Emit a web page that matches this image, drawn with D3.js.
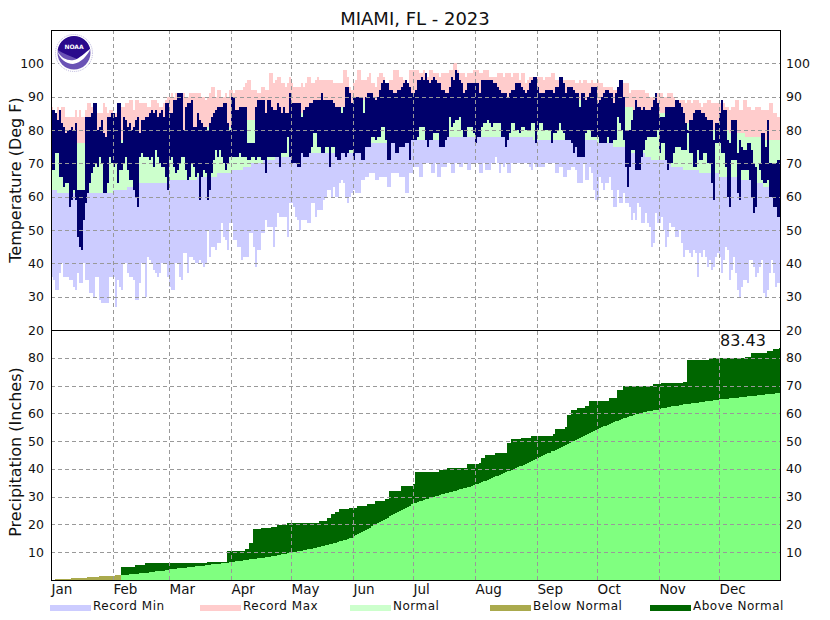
<!DOCTYPE html>
<html>
<head>
<meta charset="utf-8">
<script src="https://cdn.jsdelivr.net/npm/d3@7"></script>
<style>
body { margin: 0; background: #fff; }
text { font-family: "DejaVu Sans", sans-serif; fill: #111; }
</style>
</head>
<body>
<div id="chart"></div>
<script>
var MONTHS = ['Jan','Feb','Mar','Apr','May','Jun','Jul','Aug','Sep','Oct','Nov','Dec'];
var MONTH_STARTS = [0,31,59,90,120,151,181,212,243,273,304,334];
var TEMP_TICKS = [20,30,40,50,60,70,80,90,100];
var PRECIP_TICKS = [10,20,30,40,50,60,70,80];

// one line per month, Jan to Dec
var recordMin = [].concat(
[36,35,32,32,37,40,36,36,36,35,35,33,32,37,34,34,40,35,35,31,31,30,36,36,29,28,28,28,28,36,36],
[36,27,35,33,32,40,40,37,36,36,35,29,29,34,40,40,30,42,41,40,38,37,36,37,40,40,40,36],
[33,32,32,40,40,36,35,43,43,37,42,42,41,40,40,41,40,39,40,50,42,45,45,44,46,46,52,48,47,44,52],
[52,47,47,45,45,41,42,42,42,49,49,45,39,44,44,49,49,53,51,51,51,45,51,55,54,54,54,54,48,58],
[58,57,54,53,50,53,53,53,52,52,58,58,54,56,56,56,59,60,62,62,60,63,60,60,64,65,64,60,58,60,61],
[62,61,61,61,65,65,66,66,67,67,67,65,65,66,66,66,66,63,63,67,67,67,67,66,66,66,61,61,67,67],
[69,69,69,66,66,70,70,70,70,67,67,70,66,66,69,69,69,70,70,67,67,70,70,69,69,70,70,68,68,70,70],
[70,70,67,67,70,68,68,68,70,70,72,70,67,70,69,70,67,67,70,70,70,70,70,70,70,70,70,69,68,70,69],
[69,69,69,69,70,70,70,70,70,67,67,69,69,66,66,68,68,69,69,68,64,64,64,70,65,65,69,67,62,59],
[59,66,64,62,64,64,66,62,57,57,62,58,58,61,58,58,57,53,55,53,58,57,52,52,55,52,51,45,46,55,52],
[52,54,50,45,48,52,51,51,48,48,50,46,42,44,44,43,42,44,43,36,43,42,44,42,39,41,38,39,42,43],
[42,37,41,45,44,35,38,42,37,32,30,33,35,35,34,41,41,39,36,37,39,41,31,30,32,37,41,37,33,34,34]
);
var recordMax = [].concat(
[87,85,85,87,84,87,87,84,84,84,84,84,86,84,86,84,84,86,88,88,87,85,85,85,85,85,88,87,85,86,86],
[85,85,87,87,87,87,88,88,89,89,86,89,89,88,88,88,88,87,87,89,89,89,88,87,87,88,89,90],
[90,91,90,91,91,91,91,91,90,90,91,91,91,91,91,91,90,90,89,90,91,93,93,90,92,92,90,90,91,90,92],
[92,91,92,92,92,92,93,94,95,95,92,92,92,91,91,93,93,92,92,97,97,94,95,96,96,94,94,93,94,96],
[94,93,93,93,93,94,93,94,96,96,94,94,95,96,95,95,95,95,95,95,95,94,94,94,94,94,98,98,96,93,92],
[94,95,98,98,95,95,95,96,97,94,94,93,96,97,97,96,94,93,95,95,98,98,98,96,96,95,93,94,98,98],
[98,98,98,97,97,98,96,96,98,98,97,97,97,96,97,97,97,97,98,98,100,100,98,97,97,97,96,97,97,97,98],
[98,98,97,97,98,98,98,96,96,96,96,97,97,97,96,97,97,97,96,97,97,97,95,97,97,94,95,96,96,96,96],
[96,96,96,95,96,96,96,97,97,95,95,95,95,95,95,95,95,95,95,94,94,95,94,95,95,94,94,95,94,94],
[95,94,94,93,93,93,93,93,92,92,93,93,93,94,94,94,91,92,92,92,92,92,92,92,91,91,90,90,90,91,91],
[91,91,90,90,91,91,91,90,89,89,89,89,89,88,89,89,88,89,89,89,88,87,88,88,89,89,88,88,88,88],
[88,88,88,87,87,86,87,87,89,89,86,86,89,89,87,87,86,86,87,87,87,86,86,86,86,88,88,85,85,84,84]
);
var normalLow = [].concat(
[62,62,62,61,61,61,61,61,61,61,61,61,61,61,61,61,61,61,61,61,61,61,61,61,61,61,61,61,61,61,61],
[62,62,62,62,62,62,62,63,63,63,63,63,64,64,64,64,64,64,64,64,64,64,64,64,64,64,64,64],
[65,65,65,65,65,65,65,65,65,65,65,65,65,65,66,66,66,66,66,66,66,66,66,66,67,67,67,67,67,67,67],
[68,68,68,68,68,68,69,69,69,69,70,70,70,70,70,70,71,71,71,71,71,71,72,72,72,72,72,72,72,72],
[72,72,72,72,72,73,73,73,73,73,73,73,73,73,73,73,73,73,73,73,73,73,73,73,73,73,73,73,73,73,73],
[73,73,73,73,73,73,75,75,76,76,76,76,76,76,76,76,76,77,77,77,77,77,77,77,77,77,77,77,77,77],
[77,77,77,77,77,77,77,77,77,77,77,77,77,77,77,77,78,78,78,78,78,78,78,78,78,78,78,78,78,78,78],
[78,78,78,78,78,78,78,78,78,78,78,78,78,78,78,78,78,78,78,78,78,78,78,78,78,78,78,78,78,77,77],
[77,77,77,77,77,77,77,77,77,77,77,77,77,77,77,77,77,77,77,77,77,77,77,77,77,77,77,77,77,77],
[76,76,76,76,76,76,76,76,75,75,75,75,75,75,75,74,74,73,73,73,73,73,73,73,72,72,72,71,71,71,71],
[71,71,71,71,70,70,69,69,69,69,69,69,68,68,68,68,68,68,68,68,67,67,67,67,67,67,67,67,67,67],
[66,66,66,66,66,66,66,66,66,65,65,65,65,65,65,65,64,64,64,64,64,64,63,63,63,63,63,63,63,63,63]
);
var normalHigh = [].concat(
[76,76,76,76,76,76,76,76,76,76,76,76,76,76,76,76,76,76,76,76,76,76,76,76,76,76,76,76,76,76,76],
[77,77,77,77,77,77,77,77,77,77,77,77,77,77,78,78,78,78,78,78,78,78,78,78,78,78,78,78],
[79,79,79,79,79,79,79,80,80,80,80,80,80,80,80,80,81,81,81,81,81,81,81,81,81,81,81,81,81,81,81],
[82,82,82,82,82,82,82,82,83,83,83,83,83,83,83,83,83,83,83,83,84,84,84,84,84,84,84,84,84,84],
[85,85,85,85,85,85,85,85,85,85,85,86,86,86,86,86,86,86,86,86,86,87,87,87,87,87,87,87,87,87,87],
[88,88,88,88,88,89,89,89,89,89,89,89,89,89,89,90,90,90,90,90,90,90,90,90,90,91,91,91,91,91],
[91,91,91,91,91,91,91,91,91,91,91,91,91,91,91,91,91,91,91,91,91,91,91,91,91,91,91,91,91,91,91],
[91,91,91,91,91,91,91,91,91,91,91,91,91,91,91,90,90,90,90,90,90,90,90,90,90,90,90,90,90,90,90],
[90,90,90,90,90,90,90,90,90,90,89,89,89,89,89,89,89,89,89,89,89,89,89,89,89,89,89,89,89,89],
[88,88,88,88,88,88,88,88,87,87,87,87,87,87,87,87,87,87,86,86,86,86,86,86,86,86,86,86,86,86,86],
[85,85,85,85,84,84,84,84,83,83,83,83,82,82,82,82,81,81,81,81,81,81,81,80,80,80,80,80,80,80],
[80,80,80,80,80,79,79,79,79,79,79,79,79,78,78,78,78,78,78,78,78,78,78,77,77,77,77,77,77,77,77]
);
var actualHigh = [].concat(
[86,86,85,83,86,82,81,79,80,80,81,80,82,62,62,62,62,84,84,84,85,88,88,80,81,83,79,78,84,84,85],
[85,84,88,88,76,84,83,81,82,80,81,83,84,79,83,83,84,84,85,86,85,86,84,85,86,84,88,88],
[85,85,89,89,91,91,91,80,87,88,88,89,81,81,85,83,82,81,81,80,82,84,85,86,87,87,87,88,88,82,80],
[90,90,86,86,87,87,87,87,76,76,76,76,87,89,89,89,89,85,89,89,87,86,86,88,87,85,87,85,85,91],
[88,88,88,88,88,84,86,87,87,88,88,89,89,89,89,91,89,89,89,89,89,88,87,87,87,85,87,93,93,91,88],
[90,90,90,90,90,85,90,91,91,91,90,89,90,92,94,95,94,94,92,92,91,91,92,92,93,94,95,94,93,91],
[91,92,95,95,96,95,97,95,94,95,96,95,94,94,92,92,91,91,93,96,95,98,97,95,94,91,92,94,94,94,94],
[94,94,91,95,95,95,95,95,95,94,94,93,92,91,91,91,90,91,92,92,94,94,94,93,92,91,92,94,95,96,96],
[93,91,91,91,92,92,92,92,91,93,93,96,96,94,91,93,93,93,92,91,91,87,91,91,89,90,91,93,93,93],
[88,89,90,91,92,92,91,91,88,91,93,95,95,90,80,80,80,83,86,89,87,87,86,87,86,86,86,87,89,91,88],
[84,84,84,87,87,87,87,87,89,89,88,87,85,82,80,83,83,85,86,86,86,85,85,84,83,83,83,77,82,82],
[85,89,86,86,77,76,83,83,83,73,77,75,74,74,76,76,74,70,69,69,70,79,79,75,83,70,70,70,70,71,71]
);
var actualLow = [].concat(
[68,68,73,73,66,66,63,64,64,57,59,62,59,48,45,44,53,58,61,64,67,69,70,69,72,70,61,61,64,72,70],
[69,70,64,68,68,70,72,68,65,65,62,60,57,72,73,72,72,72,71,72,69,74,72,70,69,69,66,62],
[71,72,69,67,68,70,72,72,68,65,66,70,69,66,67,59,66,68,67,59,62,67,71,74,72,74,72,70,68,70,72],
[72,72,72,72,73,72,72,72,71,71,72,72,71,72,72,71,71,67,72,72,72,72,72,72,69,73,73,73,78,72],
[70,70,70,69,69,73,72,72,72,73,75,79,79,75,75,73,73,75,75,69,75,75,72,71,71,73,73,72,73,74,74],
[71,73,73,73,71,71,75,75,75,78,78,77,78,78,81,81,77,71,71,76,76,73,73,75,75,75,76,76,71,77],
[77,77,78,81,81,81,77,75,77,77,79,79,79,75,75,75,77,78,84,81,82,83,83,84,80,78,78,81,81,81,79],
[76,78,78,81,82,82,83,82,81,82,82,82,82,78,78,75,77,79,82,82,80,80,79,81,81,80,80,80,82,82,76],
[80,82,82,80,80,80,80,76,79,79,80,82,80,79,77,77,77,76,73,75,72,72,72,72,79,80,80,78,78,78],
[78,76,76,76,76,78,76,76,77,77,84,82,80,77,69,63,69,74,74,68,68,68,72,74,77,78,78,78,78,78,80],
[73,76,76,71,68,70,70,73,75,75,75,74,74,74,79,73,73,69,69,74,71,71,73,73,70,70,64,59,76,76],
[76,73,73,69,60,57,71,71,71,61,59,68,68,68,68,65,60,55,57,69,68,65,64,64,65,60,60,57,57,54,54]
);
var precipNormal = [].concat(
[0.1,0.1,0.2,0.2,0.3,0.3,0.4,0.4,0.5,0.5,0.6,0.6,0.7,0.7,0.8,0.8,0.9,0.9,1.0,1.0,1.1,1.1,1.2,1.2,1.3,1.3,1.4,1.4,1.5,1.5,1.6],
[1.6,1.7,1.7,1.8,1.8,1.8,1.9,1.9,2.0,2.0,2.1,2.2,2.3,2.4,2.5,2.5,2.6,2.7,2.8,2.9,3.0,3.1,3.2,3.2,3.3,3.4,3.5,3.6],
[3.8,3.9,4.0,4.1,4.2,4.3,4.3,4.4,4.5,4.6,4.7,4.8,4.8,4.9,5.0,5.1,5.2,5.2,5.3,5.4,5.5,5.6,5.7,5.7,5.8,5.9,6.0,6.1,6.2,6.3,6.4],
[6.5,6.6,6.7,6.8,6.9,7.0,7.1,7.2,7.3,7.4,7.5,7.6,7.7,7.8,7.9,8.0,8.1,8.2,8.3,8.4,8.6,8.7,8.8,9.0,9.1,9.2,9.4,9.5,9.6,9.8],
[10.0,10.1,10.2,10.4,10.5,10.6,10.8,10.9,11.0,11.2,11.3,11.5,11.6,11.8,12.0,12.2,12.3,12.5,12.7,12.9,13.1,13.3,13.5,13.7,13.9,14.1,14.3,14.5,14.8,15.0,15.3],
[15.7,16.1,16.5,16.9,17.3,17.7,18.1,18.5,18.9,19.3,19.7,20.1,20.5,20.9,21.3,21.7,22.1,22.5,22.9,23.3,23.7,24.1,24.5,24.9,25.3,25.7,26.1,26.4,26.8,27.2],
[27.6,27.9,28.1,28.4,28.6,28.9,29.1,29.3,29.6,29.8,30.0,30.2,30.4,30.6,30.8,31.0,31.2,31.4,31.6,31.8,32.0,32.2,32.4,32.6,32.8,33.0,33.2,33.4,33.6,33.9,34.1],
[34.4,34.7,35.0,35.3,35.5,35.8,36.1,36.4,36.7,37.0,37.3,37.6,37.9,38.2,38.5,38.8,39.1,39.4,39.7,40.0,40.3,40.6,40.9,41.2,41.5,41.8,42.2,42.5,42.8,43.2,43.5],
[43.9,44.2,44.6,44.9,45.3,45.6,45.9,46.3,46.6,46.9,47.3,47.6,48.0,48.3,48.7,49.0,49.4,49.8,50.1,50.5,50.9,51.3,51.6,52.0,52.3,52.7,53.0,53.4,53.7,54.0],
[54.4,54.7,55.0,55.3,55.6,55.9,56.2,56.5,56.8,57.1,57.4,57.7,58.0,58.2,58.5,58.7,59.0,59.2,59.4,59.6,59.8,60.0,60.2,60.4,60.5,60.7,60.8,61.0,61.1,61.2,61.3],
[61.6,61.8,62.0,62.1,62.3,62.4,62.5,62.6,62.7,62.8,62.9,63.0,63.2,63.3,63.4,63.5,63.6,63.7,63.8,63.9,64.0,64.1,64.2,64.3,64.4,64.5,64.6,64.7,64.8,64.9],
[65.0,65.1,65.2,65.2,65.3,65.4,65.5,65.6,65.6,65.7,65.8,65.9,66.0,66.0,66.1,66.2,66.3,66.3,66.4,66.5,66.6,66.7,66.7,66.8,66.9,67.0,67.0,67.1,67.2,67.3,67.4]
);
var precipActual = [].concat(
[0,0,0,0,0,0,0,0,0,0,0,0,0,0,0,0,0,0,0,0,0,0,0,0,0,0,0,0,0,0,0],
[0,0,0,0,4.7,4.7,4.7,4.7,4.7,4.7,4.7,5.3,5.3,5.3,5.3,5.3,6.0,6.0,6.0,6.0,6.0,6.0,6.0,6.0,6.0,6.0,6.0,6.0],
[6.0,6.0,6.0,6.0,6.0,6.0,6.0,6.0,6.0,6.0,6.0,6.0,6.0,6.0,6.0,6.0,6.0,6.0,6.0,6.4,6.4,6.4,6.4,6.4,6.4,6.4,6.4,6.4,6.4,10.3,10.3],
[10.3,10.3,10.3,10.3,10.4,10.4,10.4,11.0,11.0,13.2,13.2,18.4,18.4,18.4,18.4,18.7,18.7,18.7,18.7,18.7,19.0,19.0,19.0,19.9,19.9,19.9,19.9,19.9,20.4,20.4],
[20.4,20.4,20.4,20.4,20.4,20.4,20.4,20.4,20.4,20.4,20.4,20.4,20.4,20.4,21.2,21.2,21.2,21.2,22.2,22.2,23.7,23.7,24.5,24.5,25.4,25.4,25.4,25.4,25.4,26.1,26.1],
[26.1,26.1,26.7,26.7,26.7,26.7,26.7,27.5,27.5,27.5,27.5,28.4,28.4,28.4,28.4,28.4,29.0,29.0,32.0,32.0,32.0,32.0,32.0,32.0,33.9,33.9,33.9,33.9,33.9,33.9],
[34.5,38.8,38.8,38.8,38.8,38.8,38.8,38.8,38.8,38.8,38.8,38.8,38.8,39.6,39.6,39.6,39.6,40.2,40.2,40.2,40.2,40.2,40.2,40.2,40.2,40.2,40.2,41.8,41.8,41.8,41.8],
[41.8,41.8,42.3,43.8,43.8,45.0,45.0,45.0,45.0,45.0,45.7,45.7,45.7,45.7,45.7,45.7,49.5,49.5,50.7,50.7,50.7,50.7,50.7,51.2,51.2,51.2,51.2,51.2,51.9,51.9,51.9],
[51.9,51.9,51.9,51.9,51.9,51.9,51.9,51.9,52.5,54.4,54.4,54.4,54.4,54.4,55.0,59.4,59.4,61.2,61.2,61.2,61.9,61.9,61.9,61.9,62.6,62.6,64.4,64.4,64.4,64.4],
[64.4,64.4,64.4,64.4,64.4,64.4,65.4,65.4,65.4,65.4,68.4,68.4,68.4,70.0,70.0,70.0,70.0,70.0,70.0,70.0,70.0,70.0,70.0,70.0,70.0,70.0,70.0,70.0,70.5,70.5,70.5],
[70.5,70.9,70.9,70.9,70.9,70.9,70.9,70.9,70.9,70.9,70.9,70.9,71.2,71.2,79.3,79.3,79.3,79.3,79.3,79.3,79.3,79.3,79.3,79.3,79.3,79.8,79.8,79.8,79.8,79.8],
[79.9,79.9,79.9,79.9,79.9,79.9,79.9,79.9,79.9,79.9,79.9,79.9,79.9,80.2,80.2,80.2,81.8,81.8,81.8,81.8,81.8,81.8,81.8,81.8,82.4,82.4,82.4,83.2,83.2,83.2,83.43]
);

var legendItems = [
	{label: 'Record Min', color: '#ccccff', x: 50},
	{label: 'Record Max', color: '#ffcccc', x: 200},
	{label: 'Normal', color: '#ccffcc', x: 350},
	{label: 'Below Normal', color: '#aaaa4d', x: 490},
	{label: 'Above Normal', color: '#006600', x: 650}
];

var svg = d3.select("#chart").append("svg").attr("width", 830).attr("height", 620);

var xDay = d3.scaleLinear().domain([0, 365]).range([51, 781]);
var yTemp = d3.scaleLinear().domain([20, 110]).range([330, 30]);
var yPrecip = d3.scaleLinear().domain([0, 90]).range([580, 330]);

// floating bar per day between two series
var drawBars = function(parent, low, high, y, color) {
	parent.append("g").attr("shape-rendering", "crispEdges").selectAll("rect")
		.data(d3.range(365))
		.join("rect")
		.attr("x", function(i) { return xDay(i); })
		.attr("width", function(i) { return xDay(i + 1) - xDay(i); })
		.attr("y", function(i) { return y(high(i)); })
		.attr("height", function(i) { return Math.max(0, y(low(i)) - y(high(i))); })
		.attr("fill", color);
};
var from = function(arr) { return function(i) { return arr[i]; }; };

/////////Temperature
var temp = svg.append("g");
drawBars(temp, from(recordMin), from(normalLow), yTemp, "#ccccff");
drawBars(temp, from(normalLow), from(normalHigh), yTemp, "#ccffcc");
drawBars(temp, from(normalHigh), from(recordMax), yTemp, "#ffcccc");
drawBars(temp, from(actualLow), from(actualHigh), yTemp, "#00006b");

/////////Precipitation
var precip = svg.append("g");
drawBars(precip, function() { return 0; }, function(i) { return Math.min(precipNormal[i], precipActual[i]); }, yPrecip, "#80ff80");
drawBars(precip, from(precipActual), function(i) { return Math.max(precipNormal[i], precipActual[i]); }, yPrecip, "#aaaa4d");
drawBars(precip, from(precipNormal), function(i) { return Math.max(precipNormal[i], precipActual[i]); }, yPrecip, "#aaaa4d");
drawBars(precip, function() { return 0; }, from(precipNormal), yPrecip, "#80ff80");
// first month: the normal wedge is olive because nothing fell yet
drawBars(precip, function() { return 0; }, function(i) { return precipActual[i] < precipNormal[i] ? precipNormal[i] : 0; }, yPrecip, "#aaaa4d");
drawBars(precip, from(precipNormal), function(i) { return Math.max(precipNormal[i], precipActual[i]); }, yPrecip, "#006600");

/////////Grid
var gridStyle = function(g) {
	g.select(".domain").remove();
	g.selectAll("text").remove();
	g.selectAll("line").attr("stroke", "#999").attr("stroke-dasharray", "4,3").attr("shape-rendering", "crispEdges");
};
svg.append("g").attr("transform", "translate(51,0)")
	.call(d3.axisLeft(yTemp).tickValues(TEMP_TICKS.slice(1)).tickSize(-729))
	.call(gridStyle);
svg.append("g").attr("transform", "translate(51,0)")
	.call(d3.axisLeft(yPrecip).tickValues(PRECIP_TICKS).tickSize(-729))
	.call(gridStyle);
svg.append("g").attr("transform", "translate(0,580)")
	.call(d3.axisBottom(xDay).tickValues(MONTH_STARTS.slice(1)).tickSize(-550))
	.call(gridStyle);

/////////Axes labels
var tickLabels = function(g, size) {
	g.select(".domain").remove();
	g.selectAll("line").remove();
	g.selectAll("text").attr("font-size", size);
};
svg.append("g").attr("transform", "translate(44,0)")
	.call(d3.axisLeft(yTemp).tickValues(TEMP_TICKS).tickSize(0).tickPadding(0).tickFormat(d3.format("d")))
	.call(tickLabels, 12.5);
svg.append("g").attr("transform", "translate(44,0)")
	.call(d3.axisLeft(yPrecip).tickValues(PRECIP_TICKS).tickSize(0).tickPadding(0).tickFormat(d3.format("d")))
	.call(tickLabels, 12.5);
svg.append("g").attr("transform", "translate(786,0)")
	.call(d3.axisRight(yTemp).tickValues(TEMP_TICKS).tickSize(0).tickPadding(0).tickFormat(d3.format("d")))
	.call(tickLabels, 12.5);
svg.append("g").attr("transform", "translate(786,0)")
	.call(d3.axisRight(yPrecip).tickValues(PRECIP_TICKS).tickSize(0).tickPadding(0).tickFormat(d3.format("d")))
	.call(tickLabels, 12.5);

var monthAxis = svg.append("g").attr("transform", "translate(0,580)")
	.call(d3.axisBottom(xDay).tickValues(MONTH_STARTS).tickSize(0).tickPadding(4)
		.tickFormat(function(d, i) { return MONTHS[i]; }))
	.call(tickLabels, 13.5);
monthAxis.selectAll("text").attr("text-anchor", "start");

// frame
svg.append("rect").attr("x", 51).attr("y", 30).attr("width", 729).attr("height", 550)
	.attr("fill", "none").attr("stroke", "#000").attr("stroke-width", 1).attr("shape-rendering", "crispEdges");
svg.append("line").attr("x1", 51).attr("x2", 780).attr("y1", 330).attr("y2", 330)
	.attr("stroke", "#000").attr("shape-rendering", "crispEdges");

/////////Titles
svg.append("text").attr("x", 415).attr("y", 25).attr("text-anchor", "middle").attr("font-size", 18).text("MIAMI, FL - 2023");
svg.append("text").attr("transform", "translate(21,180) rotate(-90)").attr("text-anchor", "middle").attr("font-size", 16).text("Temperature (Deg F)");
svg.append("text").attr("transform", "translate(21,452) rotate(-90)").attr("text-anchor", "middle").attr("font-size", 16).text("Precipitation (Inches)");
svg.append("text").attr("x", 720).attr("y", 346).attr("font-size", 16).text(d3.format(".2f")(precipActual[364]));

/////////Legend
var legend = svg.append("g").selectAll("g").data(legendItems).join("g")
	.attr("transform", function(d) { return "translate(" + d.x + ",0)"; });
legend.append("rect").attr("y", 605).attr("width", 41).attr("height", 6).attr("fill", function(d) { return d.color; });
legend.append("text").attr("x", 43).attr("y", 610).attr("font-size", 12).attr("letter-spacing", 0.5).text(function(d) { return d.label; });

/////////NOAA logo
var logo = svg.append("g").attr("transform", "translate(74,53)");
logo.append("circle").attr("r", 18.5).attr("fill", "#fff").attr("stroke", "#b9b4dc").attr("stroke-width", 1).attr("stroke-dasharray", "1,1");
logo.append("circle").attr("r", 16.5).attr("fill", "#6a52b5");
logo.append("path").attr("d", "M-16.3,-3 A16.5,16.5 0 0 1 16.3,-3 C12,-1 8,3 3,6 C-3,3 -10,1 -16.3,-3 Z").attr("fill", "#2a0a8c");
logo.append("path").attr("d", "M-17,-2 C-12,6 -6,8 0,7 C5,6 11,0 17,-5 C13,3 7,10 -1,11 C-8,11 -14,6 -17,-2 Z").attr("fill", "#fff");
logo.append("text").attr("y", -4.5).attr("text-anchor", "middle").attr("font-size", 6).attr("font-weight", "bold").style("fill", "#fff").text("NOAA");
</script>
</body>
</html>
